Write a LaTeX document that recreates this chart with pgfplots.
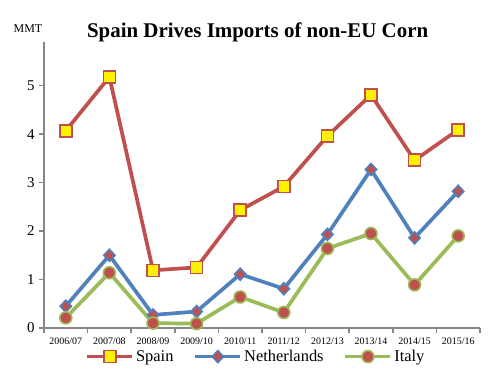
\documentclass[border=0pt]{standalone}
\usepackage{pgfplots}
\pgfplotsset{compat=1.18}
\usepackage{fontspec}
\setmainfont{Liberation Serif}
\definecolor{cRed}{HTML}{C0504D}
\definecolor{cBlue}{HTML}{4F81BD}
\definecolor{cGreen}{HTML}{9BBB59}
\definecolor{cAxis}{HTML}{868686}
\begin{document}
\begin{tikzpicture}
\useasboundingbox (-44bp,-49bp) rectangle (457bp,328bp);
\begin{axis}[
  scale only axis,
  width=436bp, height=286bp,
  xmin=-0.5, xmax=9.5, ymin=0, ymax=5.9,
  axis lines*=left,
  axis line style={cAxis, line width=1.6bp},
  xtick=data,
  xticklabels={2006/07,2007/08,2008/09,2009/10,2010/11,2011/12,2012/13,2013/14,2014/15,2015/16},
  minor xtick={-0.5,0.5,...,9.5},
  major x tick style={draw=none},
  minor x tick style={cAxis, line width=1.6bp},
  ytick={0,1,2,3,4,5},
  major y tick style={cAxis, line width=1.6bp},
  tick align=outside,
  major tick length=5bp, minor tick length=5bp,
  /pgf/number format/assume math mode=true,
  x tick label style={font=\fontsize{10}{12}\selectfont, yshift=-1bp},
  y tick label style={font=\fontsize{15}{18}\selectfont, xshift=-1bp},
  every axis title shift=0pt,
  title={\fontsize{21}{25}\selectfont\bfseries Spain Drives Imports of non-EU Corn},
  title style={at={(0.49,1)}, anchor=base, yshift=5bp},
  legend columns=3,
  legend style={draw=none, fill=none, at={(0.486,-0.1)}, anchor=center,
    font=\fontsize{16.5}{19}\selectfont,
    /tikz/every even column/.append style={column sep=18bp}},
  legend image code/.code={
    \draw[#1, mark=none] (0bp,0bp) -- (45bp,0bp);
    \path[#1] plot coordinates {(22.5bp,0bp)};
  },
  clip=false,
]
\addplot[cRed, line width=3.7bp, mark=square*, mark size=6bp,
  mark options={fill=yellow, draw=cRed, line width=1.6bp, solid}]
  coordinates {(0,4.07) (1,5.18) (2,1.19) (3,1.25) (4,2.43) (5,2.92) (6,3.96) (7,4.81) (8,3.46) (9,4.09)};
\addlegendentry{Spain}
\addplot[cBlue, line width=3.7bp, mark=diamond*, mark size=6bp,
  mark options={fill=cRed, draw=cBlue, line width=1.6bp, solid, xscale=1.25}]
  coordinates {(0,0.45) (1,1.50) (2,0.27) (3,0.34) (4,1.11) (5,0.81) (6,1.93) (7,3.27) (8,1.86) (9,2.82)};
\addlegendentry{Netherlands}
\addplot[cGreen, line width=3.7bp, mark=*, mark size=6bp,
  mark options={fill=cRed, draw=cGreen, line width=1.6bp, solid}]
  coordinates {(0,0.21) (1,1.14) (2,0.10) (3,0.09) (4,0.64) (5,0.32) (6,1.64) (7,1.95) (8,0.89) (9,1.90)};
\addlegendentry{Italy}
\node[anchor=base, font=\fontsize{12}{14}\selectfont] at (rel axis cs:0,1) [xshift=-16bp, yshift=10bp] {MMT};
\end{axis}
\end{tikzpicture}
\end{document}
